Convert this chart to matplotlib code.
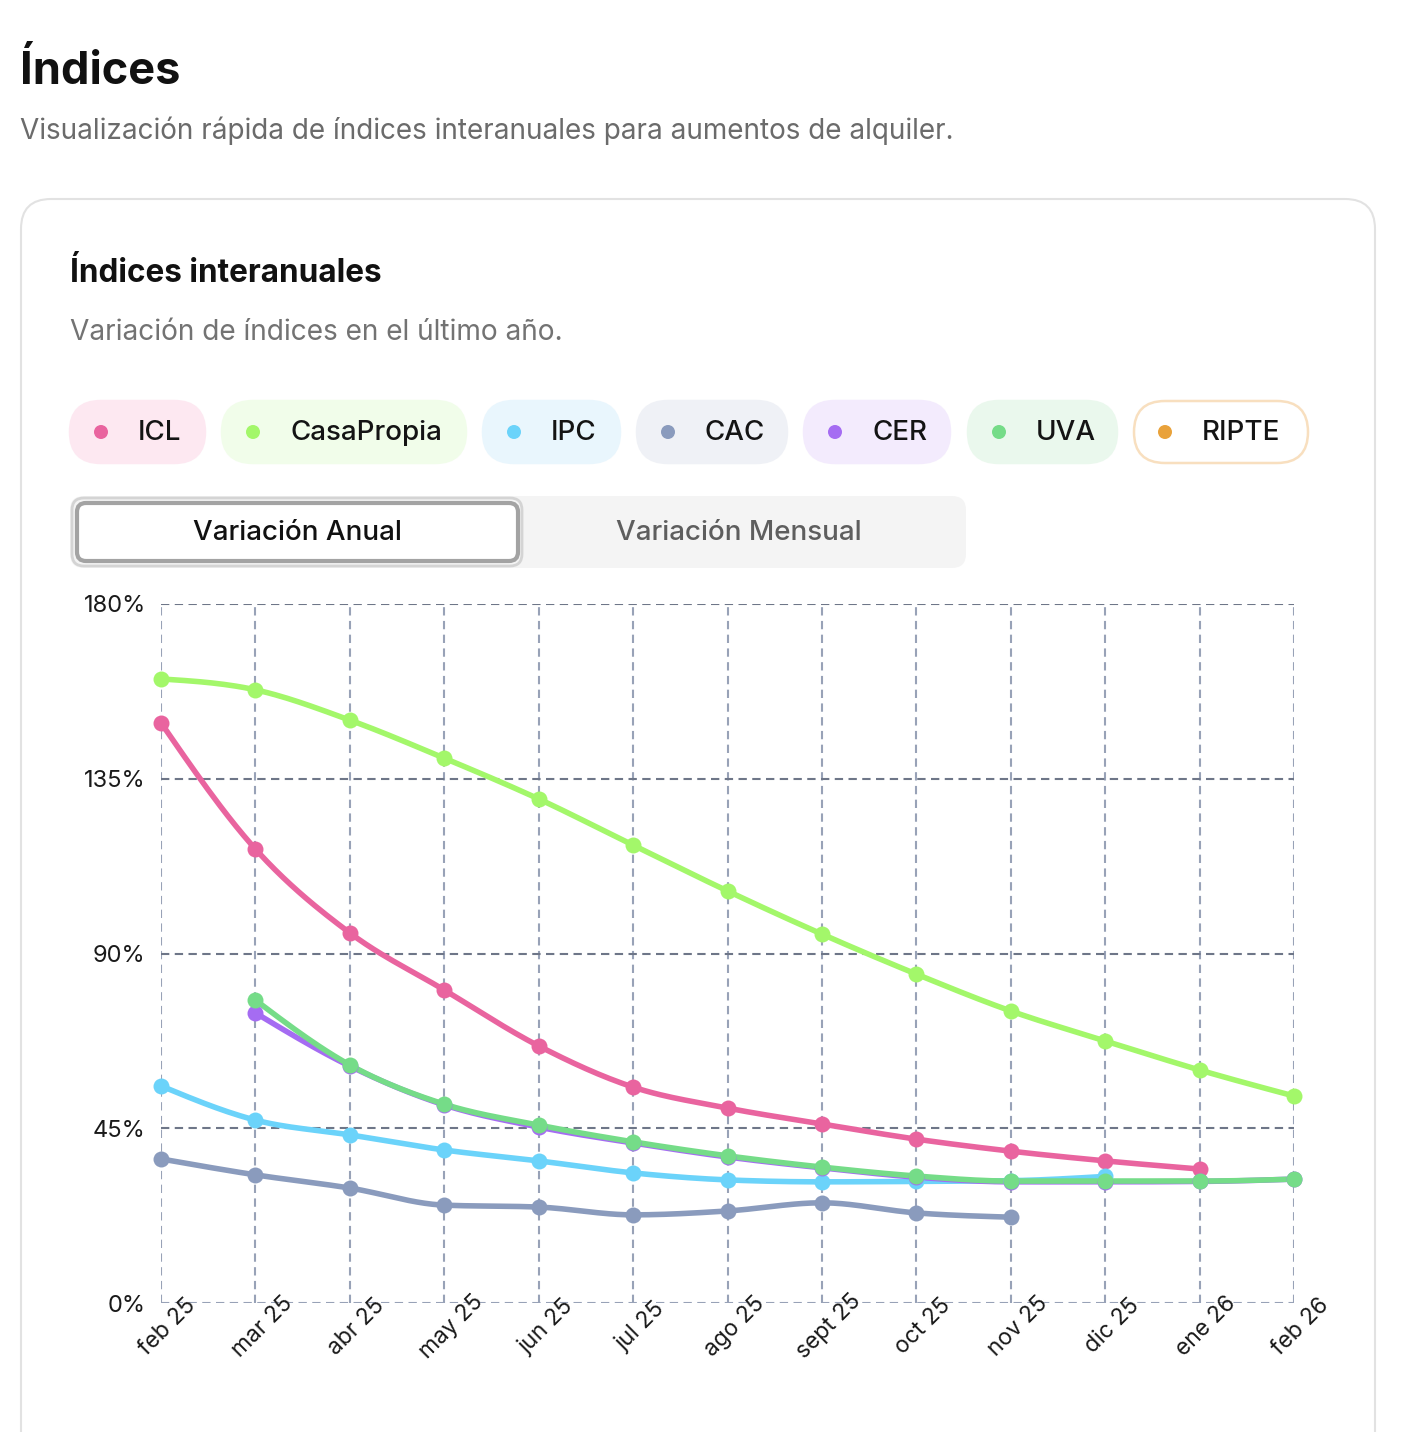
import numpy as np
import matplotlib
matplotlib.use("Agg")
import matplotlib.pyplot as plt
from matplotlib.patches import FancyBboxPatch, Circle

plt.rcParams['font.family'] = ['Inter', 'DejaVu Sans']

months = ['feb 25', 'mar 25', 'abr 25', 'may 25', 'jun 25', 'jul 25', 'ago 25',
          'sept 25', 'oct 25', 'nov 25', 'dic 25', 'ene 26', 'feb 26']
nan = np.nan

icl = [149.4, 116.9, 95.3, 80.6, 66.2, 55.6, 50.2, 46.1, 42.2, 39.1, 36.6, 34.5, nan]
casa_propia = [160.7, 157.9, 150.1, 140.3, 129.8, 117.9, 106.1, 95.0, 84.7, 75.2, 67.5, 60.0, 53.3]
ipc = [55.9, 47.1, 43.3, 39.4, 36.6, 33.5, 31.7, 31.2, 31.3, 31.5, 32.6, nan, nan]
cac = [37.1, 33.0, 29.6, 25.2, 24.7, 22.7, 23.7, 25.8, 23.2, 22.1, nan, nan, nan]
cer = [nan, 74.7, 61.0, 51.0, 45.3, 41.2, 37.6, 34.8, 32.4, 31.2, 31.2, 31.3, 31.9]
uva = [nan, 78.0, 61.3, 51.2, 45.8, 41.5, 37.9, 35.0, 32.7, 31.4, 31.4, 31.4, 31.9]

legend_names = ['ICL', 'CasaPropia', 'IPC', 'CAC', 'CER', 'UVA', 'RIPTE']
legend_colors = ['#e9649f', '#a3f76a', '#6bd3fa', '#8a9bbd', '#a56cf2', '#75dc88', '#e9a23b']
legend_bg = ['#fde8f1', '#f1fdea', '#e9f6fd', '#eff1f6', '#f3ebfd', '#eaf8ed', '#ffffff']
yticks = [0, 45, 90, 135, 180]


def monotone(xs, ys, n=24):
    # monotone cubic curve through the points (same idea as d3 curveMonotoneX)
    xs = np.asarray(xs, float)
    ys = np.asarray(ys, float)
    if len(xs) < 3:
        return xs, ys
    h = np.diff(xs)
    s = np.diff(ys) / h
    t = np.zeros(len(xs))
    for i in range(1, len(xs) - 1):
        p = (s[i - 1] * h[i] + s[i] * h[i - 1]) / (h[i - 1] + h[i])
        t[i] = (np.sign(s[i - 1]) + np.sign(s[i])) * min(abs(s[i - 1]), abs(s[i]), 0.5 * abs(p))
    t[0] = (3 * s[0] - t[1]) / 2
    t[-1] = (3 * s[-1] - t[-2]) / 2
    ox, oy = [], []
    for i in range(len(xs) - 1):
        u = np.linspace(0, 1, n, endpoint=False)
        h00 = 2 * u**3 - 3 * u**2 + 1
        h10 = u**3 - 2 * u**2 + u
        h01 = -2 * u**3 + 3 * u**2
        h11 = u**3 - u**2
        ox.extend(xs[i] + u * h[i])
        oy.extend(h00 * ys[i] + h10 * h[i] * t[i] + h01 * ys[i + 1] + h11 * h[i] * t[i + 1])
    ox.append(xs[-1])
    oy.append(ys[-1])
    return np.array(ox), np.array(oy)


fig = plt.figure(figsize=(14.02, 14.32), dpi=100)
bg = fig.add_axes([0, 0, 1, 1])
bg.set_xlim(0, 1402)
bg.set_ylim(1432, 0)
bg.axis('off')

# page header
bg.text(20, 72, 'Índices', fontsize=32.5, fontweight='bold', color='#111111', va='center', ha='left')
bg.text(20, 131, 'Visualización rápida de índices interanuales para aumentos de alquiler.',
        fontsize=20.1, color='#6b6b6b', va='center', ha='left')

# card
bg.add_patch(FancyBboxPatch((21, 199), 1354, 1300, boxstyle='round,pad=0,rounding_size=30',
                            fc='white', ec='#e2e2e2', lw=1.5))
bg.text(70, 273, 'Índices interanuales', fontsize=22.7, fontweight='bold', color='#111111',
        va='center', ha='left')
bg.text(70, 333, 'Variación de índices en el último año.', fontsize=20.2, color='#737373',
        va='center', ha='left')

# legend pills
pill_x = [70, 222, 483, 637, 804, 968, 1134]
pill_w = [135, 244, 137, 150, 146, 149, 174]
for name, col, fc, x0, w in zip(legend_names, legend_colors, legend_bg, pill_x, pill_w):
    ec = '#f8dfbf' if fc == '#ffffff' else fc
    bg.add_patch(FancyBboxPatch((x0, 401), w, 62, boxstyle='round,pad=0,rounding_size=31',
                                fc=fc, ec=ec, lw=1.8))
    bg.add_patch(Circle((x0 + 31, 432), 7, fc=col, ec='none'))
    bg.text(x0 + 68, 433, name, fontsize=20, fontweight='medium', color='#141414',
            va='center', ha='left')

# toggle
bg.add_patch(FancyBboxPatch((70, 496), 896, 72, boxstyle='round,pad=0,rounding_size=14',
                            fc='#f4f4f4', ec='none'))
bg.add_patch(FancyBboxPatch((72, 498), 450, 68, boxstyle='round,pad=0,rounding_size=12',
                            fc='none', ec='#d4d4d4', lw=2))
bg.add_patch(FancyBboxPatch((77, 503), 441, 58, boxstyle='round,pad=0,rounding_size=9',
                            fc='white', ec='#a3a3a3', lw=3))
bg.text(297, 533, 'Variación Anual', fontsize=20, fontweight='medium', color='#111111',
        va='center', ha='center')
bg.text(739, 533, 'Variación Mensual', fontsize=20, fontweight='medium', color='#5e5e5e',
        va='center', ha='center')

# chart
ax = fig.add_axes([161 / 1402, 1 - 1303 / 1432, (1294 - 161) / 1402, (1303 - 604) / 1432])
ax.patch.set_alpha(0)
x = np.arange(len(months))
ax.set_xlim(0, len(months) - 1)
ax.set_ylim(0, 180)
for s in ax.spines.values():
    s.set_visible(False)
for xi in x:
    ax.axvline(xi, color='#98a2b7', lw=1.5, dashes=(4, 2.6), zorder=1)
for yv in yticks:
    ax.axhline(yv, color='#98a2b7' if yv == 0 else '#6e7688', lw=1.5, dashes=(4, 2.6), zorder=1)

series = [(icl, '#e9649f'), (casa_propia, '#a3f76a'), (ipc, '#6bd3fa'), (cac, '#8a9bbd'),
          (cer, '#a56cf2'), (uva, '#75dc88')]
for vals, col in series:
    v = np.array(vals, float)
    ok = ~np.isnan(v)
    cx, cy = monotone(x[ok], v[ok])
    ax.plot(cx, cy, color=col, lw=4, solid_capstyle='round', clip_on=False, zorder=3)
    ax.plot(x[ok], v[ok], 'o', color=col, ms=11.5, mec='none', clip_on=False, zorder=4)

ax.set_yticks(yticks)
ax.set_yticklabels([f'{v}%' for v in yticks], fontsize=17, color='#1a1a1a')
ax.tick_params(axis='y', length=0, pad=11)
ax.set_xticks(x)
ax.set_xticklabels([])
ax.tick_params(axis='x', length=0)
for xi, lab in zip(x, months):
    ax.annotate(lab, (xi, 0), xycoords=('data', 'axes fraction'), xytext=(5, -17),
                textcoords='offset points', rotation=45, ha='center', va='center',
                fontsize=16.5, color='#1a1a1a', annotation_clip=False)

fig.savefig('out.png', dpi=100)
